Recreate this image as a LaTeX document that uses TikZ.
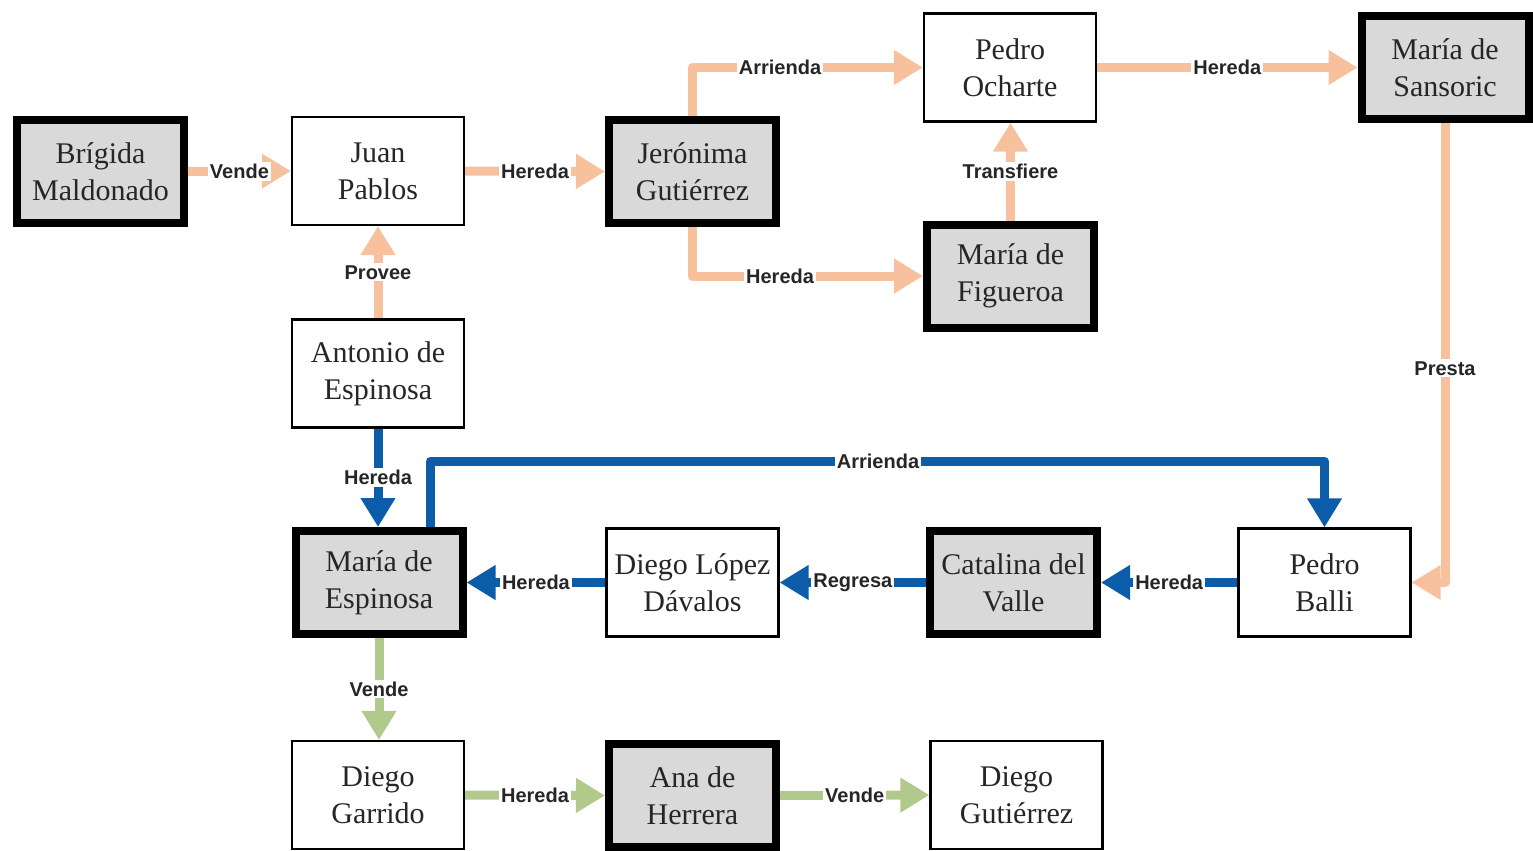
\documentclass[tikz,border=0pt]{standalone}
\usepackage{fontspec}
\setmainfont{Liberation Serif}
\newfontfamily\labelfont{Liberation Sans}
\usetikzlibrary{arrows.meta}

\definecolor{peach}{HTML}{F8C19E}
\definecolor{navy}{HTML}{0B5DA9}
\definecolor{sage}{HTML}{B1C98B}
\definecolor{boxgray}{HTML}{D9D9D9}

\begin{document}
\begin{tikzpicture}[x=0.5pt,y=-0.5pt,
  person/.style={draw=black, line width=1.1pt, fill=white,
    minimum width=86pt, minimum height=54pt, inner sep=0pt, align=center,
    font=\fontsize{15}{18.5}\selectfont, text=black!85},
  key/.style={person, line width=4pt, fill=boxgray,
    minimum width=83.5pt, minimum height=51.5pt},
  link/.style={line width=4.5pt, line join=round,
    -{Triangle[width=16.5pt,length=14.5pt]}},
  tag/.style={fill=white, inner sep=1pt,
    font=\labelfont\bfseries\fontsize{10}{12}\selectfont, text=black!85},
]
\useasboundingbox (0,0) rectangle (1533,851);

% people
\node[key]    (brigida)    at (100.5,171.5) {Brígida\\Maldonado};
\node[person] (juan)       at (378,171)     {Juan\\Pablos};
\node[key]    (jeronima)   at (692.5,171.5) {Jerónima\\Gutiérrez};
\node[person] (ocharte)    at (1010,67.5)   {Pedro\\Ocharte};
\node[key]    (sansoric)   at (1445,67.5)   {María de\\Sansoric};
\node[key]    (figueroa)   at (1010.5,276)  {María de\\Figueroa};
\node[person] (antonio)    at (378,373.5)   {Antonio de\\Espinosa};
\node[key]    (mespinosa)  at (379,582.5)   {María de\\Espinosa};
\node[person] (lopez)      at (692.5,582.5) {Diego López\\Dávalos};
\node[key]    (catalina)   at (1013.5,582.5){Catalina del\\Valle};
\node[person] (balli)      at (1324.5,582.5){Pedro\\Balli};
\node[person] (garrido)    at (378,795)     {Diego\\Garrido};
\node[key]    (ana)        at (692.5,795.5) {Ana de\\Herrera};
\node[person] (dgutierrez) at (1016.5,795)  {Diego\\Gutiérrez};

% first generation of transfers
\draw[link,peach] (brigida.east) -- node[tag]{Vende} (juan.west);
\draw[link,peach] (juan.east) -- node[tag]{Hereda} (jeronima.west);
\draw[link,peach] (jeronima.north) |- node[tag,pos=0.69]{Arrienda} (ocharte.west);
\draw[link,peach] (jeronima.south) |- node[tag,pos=0.69]{Hereda} (figueroa.west);
\draw[link,peach] (figueroa.north) -- node[tag]{Transfiere} (figueroa.north |- ocharte.south);
\draw[link,peach] (ocharte.east) -- node[tag]{Hereda} (sansoric.west);
\draw[link,peach] (sansoric.south) |- node[tag,pos=0.267]{Presta} (balli.east);
\draw[link,peach] (antonio.north) -- node[tag]{Provee} (juan.south);

% second generation
\coordinate (arrtop) at (878,461);
\draw[link,navy] (antonio.south) -- node[tag]{Hereda} (antonio.south |- mespinosa.north);
\draw[link,navy] ([xshift=25.5pt]mespinosa.north) |- (arrtop) node[tag]{Arrienda} -| (balli.north);
\draw[link,navy] (lopez.west) -- node[tag]{Hereda} (mespinosa.east);
\draw[link,navy] (catalina.west) -- node[tag]{Regresa} (lopez.east);
\draw[link,navy] (balli.west) -- node[tag]{Hereda} (catalina.east);

% third generation
\draw[link,sage] (mespinosa.south) -- node[tag]{Vende} (mespinosa.south |- garrido.north);
\draw[link,sage] (garrido.east) -- node[tag]{Hereda} (ana.west);
\draw[link,sage] (ana.east) -- node[tag]{Vende} (dgutierrez.west);
\end{tikzpicture}
\end{document}
